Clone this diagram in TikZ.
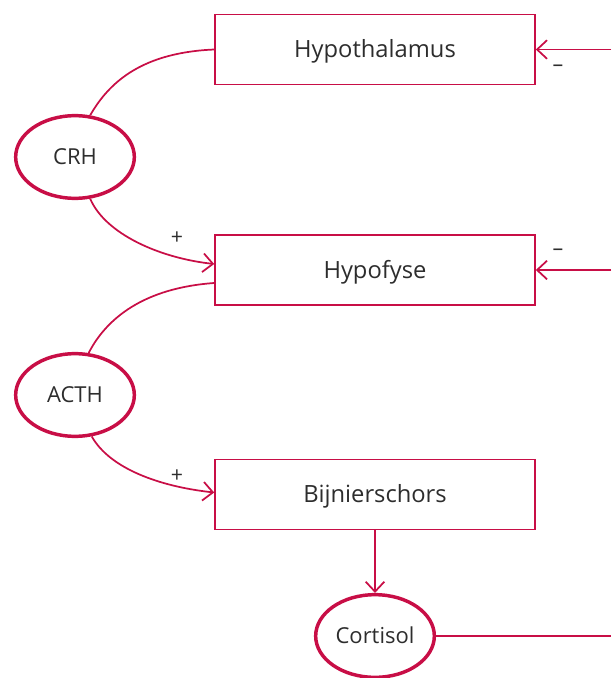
\documentclass[tikz,border=0pt]{standalone}
\usepackage{fontspec}
\setmainfont{Open Sans}
\usepackage{tikz}
\usetikzlibrary{arrows.meta, shapes.geometric}

\definecolor{asred}{RGB}{200,14,70}
\definecolor{astext}{RGB}{45,45,45}

\begin{document}
\begin{tikzpicture}[x=0.75pt, y=-0.75pt]
    \tikzstyle{organ} = [rectangle, draw=asred, line width=1.2pt, minimum width=240pt, minimum height=52.5pt, inner sep=0pt, text=astext, text height=12.6pt, text depth=0pt, font=\fontsize{17.8pt}{21pt}\selectfont]
    \tikzstyle{hormone} = [ellipse, draw=asred, line width=2.6pt, minimum width=89pt, minimum height=62pt, inner sep=0pt, text=astext, text height=11.8pt, text depth=0pt, font=\fontsize{16.5pt}{20pt}\selectfont]
    \tikzstyle{link} = [draw=asred, line width=1.3pt]
    \tikzstyle{signal} = [link, -{Straight Barb[length=7.5pt, width=14pt, line width=1.3pt]}]
    \tikzstyle{sign} = [text=astext, font=\fontsize{16pt}{18pt}\selectfont, inner sep=0pt]

    \useasboundingbox (0,0) rectangle (611,678);

    % Organs
    \node[organ] (hyp) at (375,49.5) {Hypothalamus};
    \node[organ] (hypofyse) at (375,270) {Hypofyse};
    \node[organ] (bijn) at (375,494.5) {Bijnierschors};

    % Hormones
    \node[hormone] (crh) at (75,157) {CRH};
    \node[hormone] (acth) at (75,395) {ACTH};
    \node[hormone] (cortisol) at (375,636) {Cortisol};

    % Right edge
    \coordinate (r1) at (611,49.5);
    \coordinate (r2) at (611,270);
    \coordinate (r3) at (611,636);

    % Connectors
    \draw[link] (hyp.west) .. controls +(-70,3) and +(20,-35) .. (crh.70);
    \draw[signal] (crh.-70) .. controls +(15,35) and +(-55,-6) .. ([yshift=4.5pt]hypofyse.west);
    \draw[link] ([yshift=-9.75pt]hypofyse.west) .. controls +(-70,5) and +(18,-35) .. (acth.72);
    \draw[signal] (acth.-68) .. controls +(18,32) and +(-55,-6) .. ([yshift=1.5pt]bijn.west);
    \draw[signal] (bijn.south) -- (cortisol.north);
    \draw[link] (cortisol.east) -- (r3);
    \draw[signal] (r1) -- (hyp.east);
    \draw[signal] (r2) -- (hypofyse.east);

    % Signs
    \node[sign] (p1) at (177,238) {+};
    \node[sign] (p2) at (177,476) {+};
    \node[sign] (m1) at (558,68) {–};
    \node[sign] (m2) at (558,252) {–};

\end{tikzpicture}
\end{document}
